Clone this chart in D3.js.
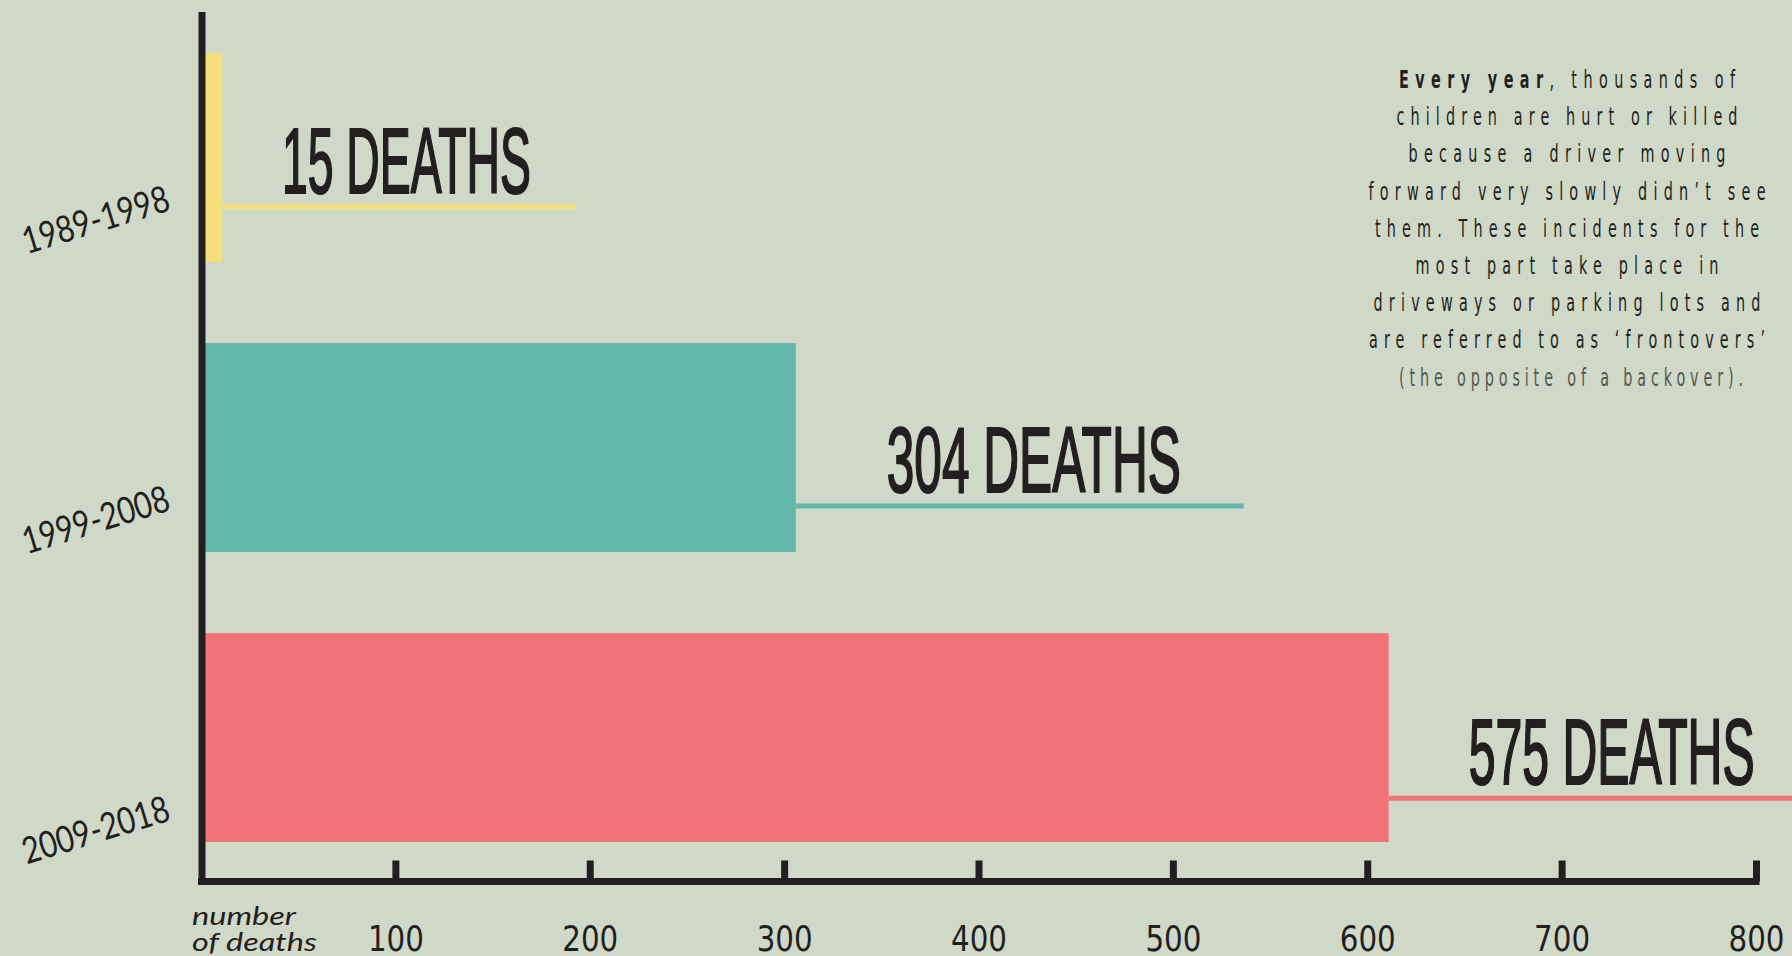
<!DOCTYPE html>
<html>
<head>
<meta charset="utf-8">
<script src="https://cdn.jsdelivr.net/npm/d3@7"></script>
<style>
  html, body { margin: 0; padding: 0; background: #d0d9c8; }
  svg { display: block; }
</style>
</head>
<body>
<svg id="chart" width="1792" height="956"></svg>
<script>
// ---------------- data ----------------
const categories = ["1989-1998", "1999-2008", "2009-2018"];
const deaths = [15, 304, 575];            // totals printed in the labels
const barValues = [11, 306, 611];         // bar lengths as drawn against the axis
const tickValues = [100, 200, 300, 400, 500, 600, 700, 800];
const axisTitle = ["number", "of deaths"];
const noteLines = [
  "children are hurt or killed",
  "because a driver moving",
  "forward very slowly didn\u2019t see",
  "them. These incidents for the",
  "most part take place in",
  "driveways or parking lots and",
  "are referred to as \u2018frontovers\u2019"
];
const noteFirstBold = "Every year";
const noteFirstRest = ", thousands of";
const noteLast = "(the opposite of a backover).";

// ---------------- style / layout ----------------
const W = 1792, H = 956;
const colors = ["#f5df7a", "#62b9ab", "#f17377"];
const ink = "#231f20";
const bg = "#d0d9c8";
const calloutLen = [354, 448, 420];
const lineOffset = [154, 163, 165];
const labelDx = [184, 238, 223];
const labelW = [251, 296, 288];
const catDy = [-52, -42, -22];
const noteW = [336, 341, 317, 397, 384, 303, 387, 396, 344];
const noteSX = 0.64;

const svg = d3.select("#chart");
svg.append("rect").attr("width", W).attr("height", H).attr("fill", bg);

const x = d3.scaleLinear().domain([0, 800]).range([201, 1756]);
const y = d3.scaleBand().domain(categories).range([53, 842]).paddingInner(0.28).paddingOuter(0);
const bw = y.bandwidth();

const rows = categories.map((c, i) => ({ c, i, v: barValues[i], d: deaths[i] }));

// bars
svg.append("g").selectAll("rect").data(rows).join("rect")
  .attr("x", x(0))
  .attr("y", d => y(d.c))
  .attr("width", d => x(d.v) - x(0))
  .attr("height", bw)
  .attr("fill", d => colors[d.i]);

// callout lines
svg.append("g").selectAll("line").data(rows).join("line")
  .attr("x1", d => x(d.v))
  .attr("x2", d => Math.min(W, x(d.v) + calloutLen[d.i]))
  .attr("y1", d => y(d.c) + lineOffset[d.i])
  .attr("y2", d => y(d.c) + lineOffset[d.i])
  .attr("stroke", d => colors[d.i])
  .attr("stroke-width", 5);

// big labels
svg.append("g").selectAll("text").data(rows).join("text")
  .attr("x", d => x(d.v) + labelDx[d.i])
  .attr("y", d => y(d.c) + lineOffset[d.i] - 14.5)
  .attr("text-anchor", "middle")
  .attr("font-family", "'Liberation Sans Narrow', 'Liberation Sans', Arial, sans-serif")
  .attr("font-weight", "normal")
  .attr("font-size", 92)
  .attr("fill", ink)
  .attr("stroke", ink)
  .attr("stroke-width", 2.2)
  .attr("stroke-linejoin", "miter")
  .attr("textLength", d => labelW[d.i] - 2)
  .attr("lengthAdjust", "spacingAndGlyphs")
  .text(d => d.d + " DEATHS");

// category labels (rotated)
svg.append("g").selectAll("text").data(rows).join("text")
  .attr("transform", d => `translate(172,${y(d.c) + bw + catDy[d.i]}) rotate(-17)`)
  .attr("text-anchor", "end")
  .attr("font-family", "Lato, 'Noto Sans', sans-serif")
  .attr("font-size", 37)
  .attr("fill", ink)
  .attr("textLength", 152)
  .attr("lengthAdjust", "spacingAndGlyphs")
  .text(d => d.c);

// x axis
const axisY = 881.5;
const xAxis = d3.axisBottom(x).tickValues(tickValues).tickSizeInner(-21).tickSizeOuter(0).tickPadding(0);
const gx = svg.append("g").attr("transform", `translate(0,${axisY})`).call(xAxis);
gx.select(".domain").attr("stroke", ink).attr("stroke-width", 7).attr("d", `M${x(0) - 3},0H${x(800) + 3.5}`);
gx.selectAll(".tick line").attr("stroke", ink).attr("stroke-width", 7);
gx.selectAll(".tick text")
  .attr("y", 951 - axisY).attr("dy", 0)
  .attr("font-family", "'Liberation Sans Narrow', 'DejaVu Sans Condensed', sans-serif")
  .attr("font-size", 36)
  .attr("fill", ink)
  .attr("textLength", 56)
  .attr("lengthAdjust", "spacingAndGlyphs");

// y axis line
svg.append("line")
  .attr("x1", x(0) + 1).attr("x2", x(0) + 1)
  .attr("y1", 12).attr("y2", axisY + 3.5)
  .attr("stroke", ink).attr("stroke-width", 7);

// axis title
const titleW = [104, 125];
svg.append("g").selectAll("text").data(axisTitle).join("text")
  .attr("x", 192)
  .attr("y", (d, i) => 925 + i * 26)
  .attr("font-family", "Lato, 'Noto Sans', sans-serif")
  .attr("font-style", "italic")
  .attr("font-size", 25)
  .attr("fill", ink)
  .attr("textLength", (d, i) => titleW[i])
  .attr("lengthAdjust", "spacingAndGlyphs")
  .text(d => d);

// note block (narrow glyphs, wide tracking)
const noteX = 1567;
const note = svg.append("g")
  .attr("transform", `translate(${noteX},0) scale(${noteSX},1)`)
  .attr("font-family", "'Liberation Sans Narrow', 'DejaVu Sans Condensed', sans-serif")
  .attr("font-size", 25)
  .attr("text-anchor", "middle");
const first = note.append("text").attr("x", 0).attr("y", 88)
  .attr("fill", ink).attr("textLength", noteW[0] / noteSX).attr("lengthAdjust", "spacing");
first.append("tspan").attr("font-weight", "bold").text(noteFirstBold);
first.append("tspan").text(noteFirstRest);
note.selectAll("text.mid").data(noteLines).join("text").attr("class", "mid")
  .attr("x", 0)
  .attr("y", (d, i) => 88 + (i + 1) * 37.2)
  .attr("fill", ink)
  .attr("textLength", (d, i) => noteW[i + 1] / noteSX)
  .attr("lengthAdjust", "spacing")
  .text(d => d);
note.append("text").attr("x", 4 / noteSX).attr("y", 386)
  .attr("fill", "#55574f")
  .attr("textLength", noteW[8] / noteSX).attr("lengthAdjust", "spacing")
  .text(noteLast);
</script>
</body>
</html>
